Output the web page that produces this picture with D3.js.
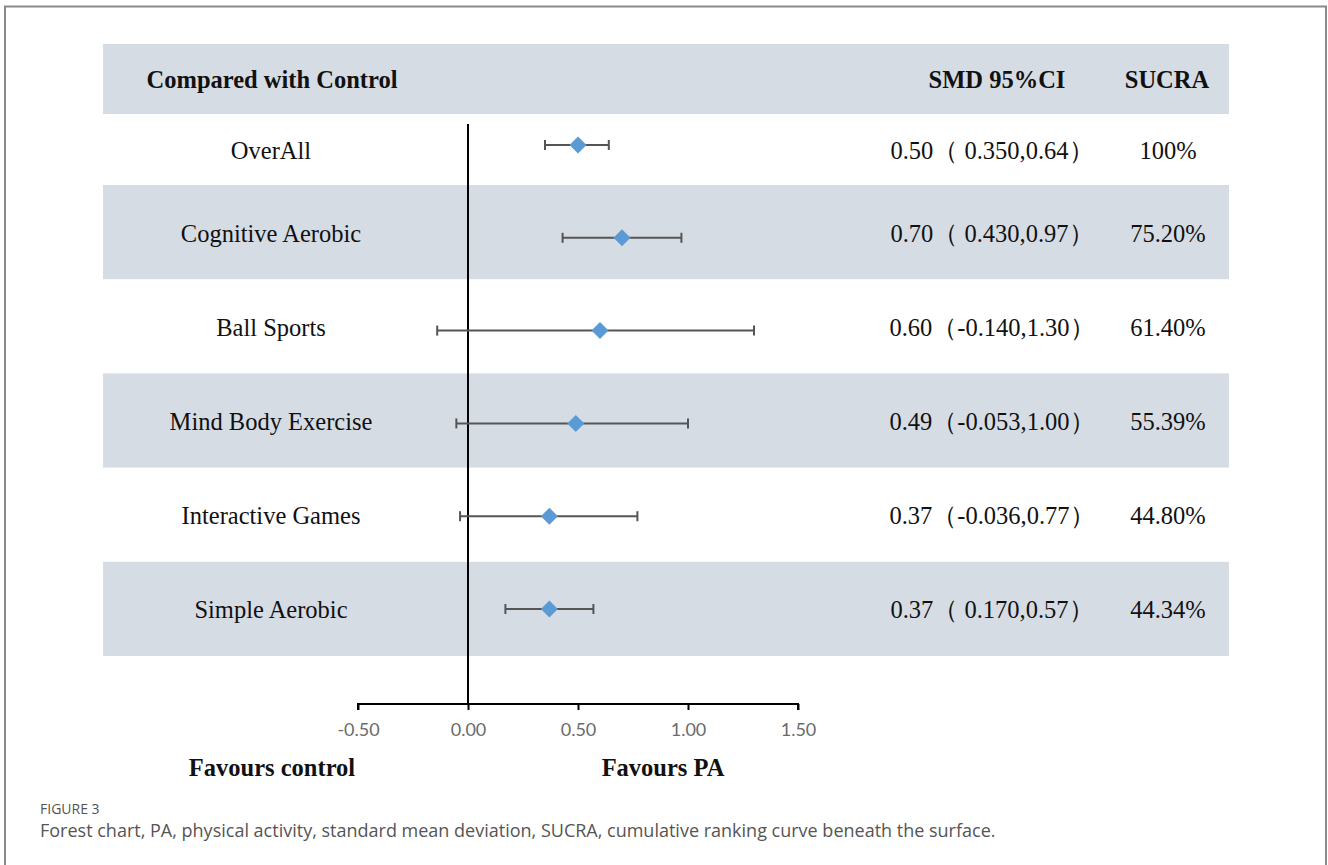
<!DOCTYPE html>
<html lang="en">
<head>
  <meta charset="UTF-8">
  <title>Forest chart</title>
  <style>
  body { margin: 0; background: #fff; }
  .serif { font-family: "Liberation Serif", "Times New Roman", serif; fill: #111; }
  .tick text { font-family: Lato, "Open Sans", sans-serif; font-size: 18px; fill: #6b6b6b; }
  .caption { font-family: "Open Sans", sans-serif; fill: #555; }
</style>
</head>
<body>
  <script src="https://d3js.org/d3.v7.min.js"></script>
  <script>
// data
labels = ["OverAll", "Cognitive Aerobic", "Ball Sports", "Mind Body Exercise", "Interactive Games", "Simple Aerobic"]
smd = [0.50, 0.70, 0.60, 0.49, 0.37, 0.37]
lower = [0.350, 0.430, -0.140, -0.053, -0.036, 0.170]
upper = [0.64, 0.97, 1.30, 1.00, 0.77, 0.57]
sucra = ["100%", "75.20%", "61.40%", "55.39%", "44.80%", "44.34%"]
ticks = [-0.5, 0, 0.5, 1.0, 1.5]

width = 1328
height = 865

x = d3.scaleLinear().domain([-0.5, 1.5]).range([358, 798])
// marker centres
y = d3.scaleLinear().domain([0, labels.length - 1]).range([145, 609])
// row band edges (first row is narrower than the rest)
edge = d3.scaleLinear().domain([1, labels.length]).range([185, 656])
edges = [114].concat(d3.range(1, labels.length + 1).map(edge))

tableLeft = 103, tableRight = 1229
colLabel = 271, colCI = 992, colSucra = 1168
fontSize = "24.5px"

ciText = i => {
  const lo = lower[i]
  return smd[i].toFixed(2) + "（" + (lo < 0 ? "" : " ") + lo.toFixed(3) + "," + upper[i].toFixed(2) + "）"
}

svg = d3.select("body").append("svg")
  .attr("width", width)
  .attr("height", height)

// outer frame
svg.append("rect")
  .attr("x", 5).attr("y", 6.5)
  .attr("width", 1321).attr("height", height + 20)
  .attr("fill", "none")
  .attr("stroke", "#8a8a8a")
  .attr("stroke-width", 2)

// header band
svg.append("rect")
  .attr("x", tableLeft).attr("y", 44)
  .attr("width", tableRight - tableLeft).attr("height", 70)
  .attr("fill", "#d6dce4")

// alternate row bands
svg.append("g")
  .selectAll("rect")
  .data(labels.map((d, i) => i).filter(i => i % 2 == 1))
  .join("rect")
    .attr("x", tableLeft)
    .attr("y", i => edges[i])
    .attr("width", tableRight - tableLeft)
    .attr("height", i => edges[i + 1] - edges[i])
    .attr("fill", "#d6dce4")

// header text
header = svg.append("g").attr("class", "serif")
  .style("font-weight", "bold").style("font-size", fontSize)
  .attr("text-anchor", "middle")
header.append("text").attr("x", colLabel + 1).attr("y", 79).attr("dy", "0.35em").text("Compared with Control")
header.append("text").attr("x", colCI + 5).attr("y", 79).attr("dy", "0.35em").text("SMD 95%CI")
header.append("text").attr("x", colSucra - 1).attr("y", 79).attr("dy", "0.35em").text("SUCRA")

// row texts
rows = svg.append("g").attr("class", "serif")
  .style("font-size", fontSize)
  .attr("text-anchor", "middle")
  .selectAll("g")
  .data(labels)
  .join("g")
    .attr("transform", (d, i) => `translate(0,${(edges[i] + edges[i + 1]) / 2 + 1})`)
rows.append("text").attr("x", colLabel).attr("dy", "0.35em").text(d => d)
rows.append("text").attr("x", colCI).attr("dy", "0.35em").text((d, i) => ciText(i))
rows.append("text").attr("x", colSucra).attr("dy", "0.35em").text((d, i) => sucra[i])

// zero line
svg.append("line")
  .attr("x1", x(0)).attr("x2", x(0))
  .attr("y1", 124).attr("y2", 704)
  .attr("stroke", "#000").attr("stroke-width", 2)

// axis
xAxis = g => g
  .attr("transform", "translate(0,704)")
  .call(d3.axisBottom(x).tickValues(ticks).tickFormat(d => d.toFixed(2)).tickSize(6).tickPadding(13))
  .call(g => g.select(".domain").attr("stroke", "#000").attr("stroke-width", 2).attr("d", `M${x(-0.5)},6V0H${x(1.5)}V6`))
  .call(g => g.selectAll(".tick line").attr("stroke", "#000").attr("stroke-width", 2))
svg.append("g").call(xAxis)

// confidence intervals
ci = svg.append("g")
  .attr("stroke", "#555")
  .attr("stroke-width", 2)
  .selectAll("g")
  .data(labels)
  .join("g")
    .attr("transform", (d, i) => `translate(0,${y(i)})`)
ci.append("line").attr("x1", (d, i) => x(lower[i])).attr("x2", (d, i) => x(upper[i]))
ci.append("line").attr("x1", (d, i) => x(lower[i])).attr("x2", (d, i) => x(lower[i])).attr("y1", -5).attr("y2", 5)
ci.append("line").attr("x1", (d, i) => x(upper[i])).attr("x2", (d, i) => x(upper[i])).attr("y1", -5).attr("y2", 5)

// point estimates
svg.append("g")
  .selectAll("path")
  .data(labels)
  .join("path")
    .attr("transform", (d, i) => `translate(${x(smd[i])},${y(i)})`)
    .attr("d", "M0,-8.5L8.5,0L0,8.5L-8.5,0Z")
    .attr("fill", "#5b9bd5")

// favours labels
fav = svg.append("g").attr("class", "serif")
  .style("font-weight", "bold").style("font-size", fontSize)
  .attr("text-anchor", "middle")
fav.append("text").attr("x", colLabel + 1).attr("y", 767).attr("dy", "0.35em").text("Favours control")
fav.append("text").attr("x", 663).attr("y", 767).attr("dy", "0.35em").text("Favours PA")

// caption
svg.append("text").attr("class", "caption")
  .attr("x", 40).attr("y", 814)
  .style("font-size", "14px")
  .text("FIGURE 3")
svg.append("text").attr("class", "caption")
  .attr("x", 40).attr("y", 837)
  .style("font-size", "18px")
  .text("Forest chart, PA, physical activity, standard mean deviation, SUCRA, cumulative ranking curve beneath the surface.")
  </script>
</body>
</html>
